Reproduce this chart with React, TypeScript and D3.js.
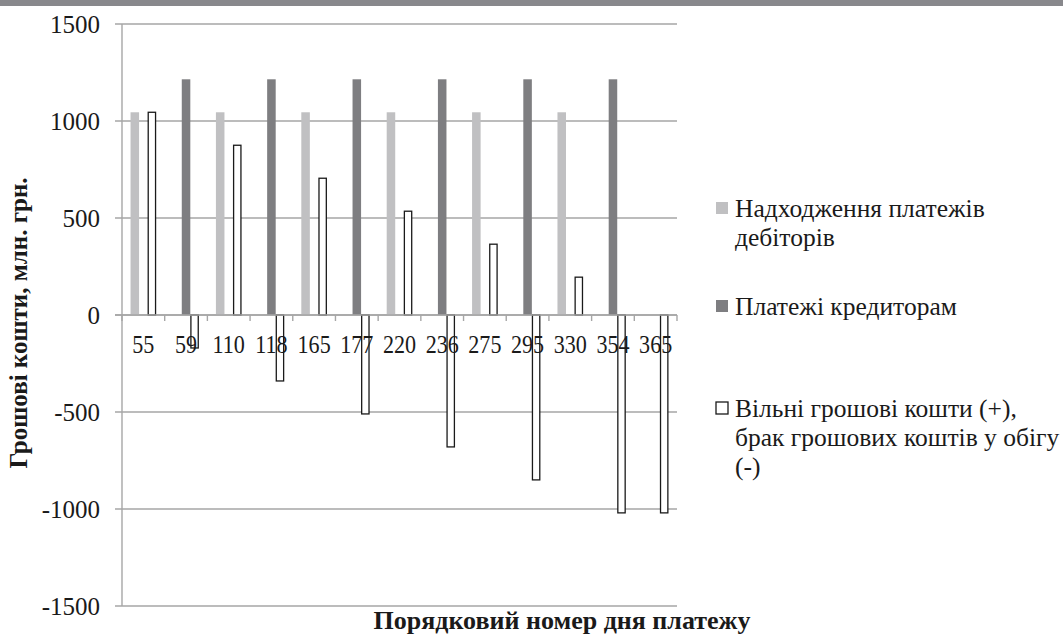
import React, { useEffect, useRef } from "react";
import * as d3 from "d3";

const days = ["55", "59", "110", "118", "165", "177", "220", "236", "275", "295", "330", "354", "365"];
const receipts: (number | null)[] = [1045, null, 1045, null, 1045, null, 1045, null, 1045, null, 1045, null, null];
const payments: (number | null)[] = [null, 1215, null, 1215, null, 1215, null, 1215, null, 1215, null, 1215, null];
const freeCash: (number | null)[] = [1045, -170, 875, -340, 705, -510, 535, -680, 365, -850, 195, -1020, -1020];
const yTicks = [-1500, -1000, -500, 0, 500, 1000, 1500];

const seriesNames = [
    ["Надходження платежів", "дебіторів"],
    ["Платежі кредиторам"],
    ["Вільні грошові кошти (+),", "брак грошових коштів у обігу", "(-)"],
];
const fills = ["#c0c0c2", "#7e7e81", "#ffffff"];
const strokes = ["none", "none", "#1a1a1a"];

const W = 1063;
const H = 634;
const font = "Liberation Serif, Times New Roman, serif";

export default function App() {
    const ref = useRef<SVGSVGElement>(null);

    useEffect(() => {
        const svg = d3.select(ref.current);
        svg.selectAll("*").remove();

        const left = 122, right = 677, top = 24, bottom = 606;
        const x = d3.scaleBand<string>().domain(days).range([left, right]);
        const inner = d3.scaleBand<number>().domain([0, 1, 2])
            .range([x.bandwidth() * 0.2, x.bandwidth() * 0.8]);
        const y = d3.scaleLinear().domain([-1500, 1500]).range([bottom, top]);

        // top band
        svg.append("rect").attr("x", 0).attr("y", 0).attr("width", W).attr("height", 6).attr("fill", "#88888c");

        // grid lines
        svg.selectAll("line.grid").data(yTicks).enter().append("line")
            .attr("x1", left - 7).attr("x2", right)
            .attr("y1", d => y(d)).attr("y2", d => y(d))
            .attr("stroke", "#a6a6a6").attr("stroke-width", 1.4);

        svg.selectAll("text.ytick").data(yTicks).enter().append("text")
            .attr("x", 100).attr("y", d => y(d) + 8.5)
            .attr("text-anchor", "end")
            .attr("font-size", 25).attr("fill", "#1a1a1a")
            .text(d => d);

        // y axis line
        svg.append("line").attr("x1", left).attr("x2", left).attr("y1", top).attr("y2", bottom)
            .attr("stroke", "#a6a6a6").attr("stroke-width", 1.4);

        // bars
        const all = [receipts, payments, freeCash];
        all.forEach((vals, s) => {
            svg.selectAll("rect.s" + s).data(vals.map((v, i) => ({ v, i }))
                .filter(d => d.v !== null)).enter().append("rect")
                .attr("x", d => (x(days[d.i]) as number) + (inner(s) as number) + (s === 2 ? 0.6 : 0))
                .attr("width", inner.bandwidth() - (s === 2 ? 1.2 : 0))
                .attr("y", d => y(Math.max(0, d.v as number)))
                .attr("height", d => Math.abs(y(d.v as number) - y(0)))
                .attr("fill", fills[s]).attr("stroke", strokes[s]).attr("stroke-width", 1.3);
        });

        // zero line with ticks
        svg.append("line").attr("x1", left - 7).attr("x2", right).attr("y1", y(0)).attr("y2", y(0))
            .attr("stroke", "#a6a6a6").attr("stroke-width", 1.4);
        const bounds = days.map(d => x(d) as number).concat([right]);
        svg.selectAll("line.xtick").data(bounds).enter().append("line")
            .attr("x1", d => d).attr("x2", d => d).attr("y1", y(0)).attr("y2", y(0) + 6)
            .attr("stroke", "#a6a6a6").attr("stroke-width", 1.4);

        svg.selectAll("text.xtick").data(days).enter().append("text")
            .attr("transform", d => `translate(${(x(d) as number) + x.bandwidth() / 2},${y(0) + 38}) scale(0.85,1)`)
            .attr("text-anchor", "middle")
            .attr("font-size", 26).attr("fill", "#1a1a1a")
            .text(d => d);

        // axis titles
        svg.append("text").attr("x", 562).attr("y", 629).attr("text-anchor", "middle")
            .attr("font-size", 26).attr("font-weight", "bold").attr("fill", "#1a1a1a")
            .text("Порядковий номер дня платежу");
        svg.append("text").attr("transform", "translate(27,323) rotate(-90)").attr("text-anchor", "middle")
            .attr("font-size", 25).attr("font-weight", "bold").attr("fill", "#1a1a1a")
            .text("Грошові кошти, млн. грн.");

        // legend
        const legendY = [217, 315, 417];
        seriesNames.forEach((lines, s) => {
            svg.append("rect").attr("x", 716).attr("y", legendY[s] - 15).attr("width", 12).attr("height", 12)
                .attr("fill", fills[s]).attr("stroke", strokes[s]).attr("stroke-width", 1.3);
            lines.forEach((t, k) => {
                svg.append("text").attr("x", 735).attr("y", legendY[s] + k * 29)
                    .attr("font-size", 25.5).attr("fill", "#1a1a1a")
                    .text(t);
            });
        });
    }, []);

    return <div style={{ position: "absolute", left: 0, top: 0 }}>
        <svg ref={ref} width={W} height={H} style={{ display: "block", background: "#fff", fontFamily: font }}></svg>
    </div>;
}
